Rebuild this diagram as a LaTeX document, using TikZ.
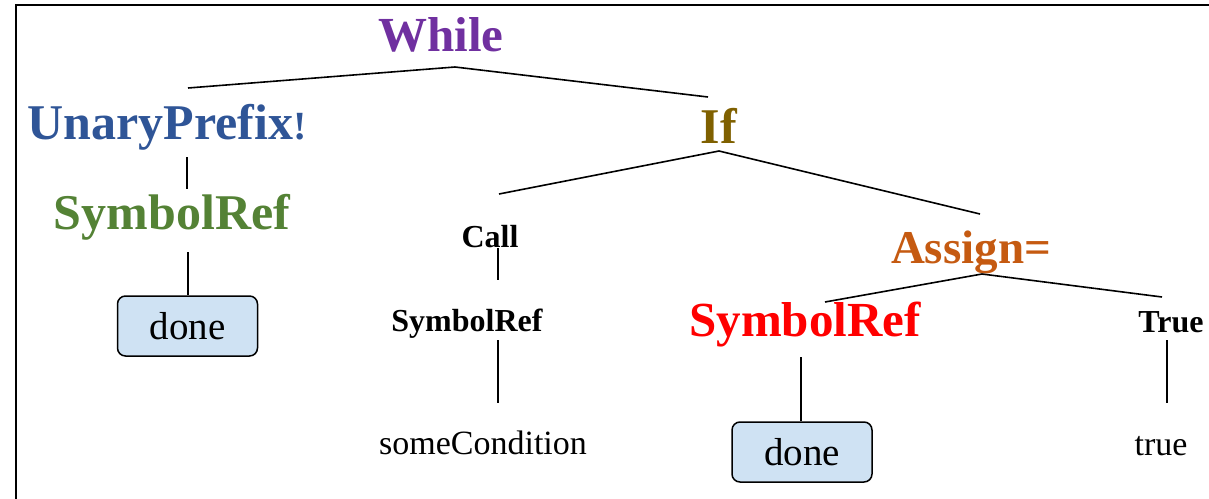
\documentclass[tikz,border=0pt]{standalone}
\usepackage{fontspec}
\setmainfont{Liberation Serif}
\definecolor{whilec}{HTML}{7030A0}
\definecolor{unaryc}{HTML}{2F5597}
\definecolor{symgreen}{HTML}{548235}
\definecolor{ifc}{HTML}{7F6000}
\definecolor{assignc}{HTML}{C55A11}
\definecolor{boxblue}{HTML}{CFE2F3}
\begin{document}
\begin{tikzpicture}[x=1pt,y=-1pt,
  lbl/.style={inner sep=0pt, anchor=base},
  bigb/.style={lbl, font=\fontsize{#1}{#1}\selectfont\bfseries},
  smallb/.style={lbl, font=\fontsize{32}{34}\selectfont\bfseries},
  leaf/.style={lbl, font=\fontsize{34}{36}\selectfont},
  valbox/.style={draw, line width=1.5pt, rounded corners=8pt, fill=boxblue,
    minimum width=140pt, minimum height=60pt, inner sep=0pt,
    font=\fontsize{39}{41}\selectfont},
  edge/.style={line width=1.6pt},
  frame/.style={line width=2pt}]
\useasboundingbox (0,0) rectangle (1209,498);

% outer frame
\coordinate (fa) at (16,500);
\coordinate (fb) at (1212,5);
\draw[frame] (fa) |- (fb);

% tree labels
\node[bigb=49, text=whilec] (while) at (441,51) {While};
\node[bigb=50, text=unaryc] (unary) at (167,139) {UnaryPrefix{\fontsize{40}{40}\selectfont!}};
\node[bigb=50, text=symgreen] (symL) at (172,229) {SymbolRef};
\node[valbox] (doneL) at (187.5,326) {done};

\node[bigb=50, text=ifc] (iff) at (719,143) {If};
\node[smallb] (call) at (490,247) {Call};
\node[smallb] (symC) at (467,331) {SymbolRef};
\node[leaf] (cond) at (483,454) {someCondition};

\node[bigb=47, text=assignc] (assign) at (971,263) {Assign=};
\node[bigb=49, text=red] (symR) at (805,336) {SymbolRef};
\node[valbox] (doneR) at (802,452) {done};
\node[smallb] (truek) at (1171,332) {True};
\node[leaf] (truev) at (1161,455) {true};

% joints and free ends of the connectors
\coordinate (wJ) at (455,67);
\coordinate (wL) at (188,88);
\coordinate (wR) at (708,97);
\coordinate (uA) at (187,157);
\coordinate (uB) at (187,189);
\coordinate (sA) at (188,252);
\coordinate (iJ) at (719,151);
\coordinate (iL) at (499,194);
\coordinate (iR) at (980,214);
\coordinate (cA) at (498,248);
\coordinate (cB) at (498,280);
\coordinate (scA) at (498,340);
\coordinate (scB) at (498,403);
\coordinate (aJ) at (982,274);
\coordinate (aL) at (825,302);
\coordinate (aR) at (1162,297);
\coordinate (rA) at (801,357);
\coordinate (tA) at (1167,340);
\coordinate (tB) at (1167,403);

% connectors
\draw[edge] (wL) -- (wJ) -- (wR);
\draw[edge] (uA) -- (uB);
\draw[edge] (sA) -- (sA |- doneL.north);
\draw[edge] (iL) -- (iJ) -- (iR);
\draw[edge] (cA) -- (cB);
\draw[edge] (scA) -- (scB);
\draw[edge] (aL) -- (aJ) -- (aR);
\draw[edge] (rA) -- (rA |- doneR.north);
\draw[edge] (tA) -- (tB);
\end{tikzpicture}
\end{document}
